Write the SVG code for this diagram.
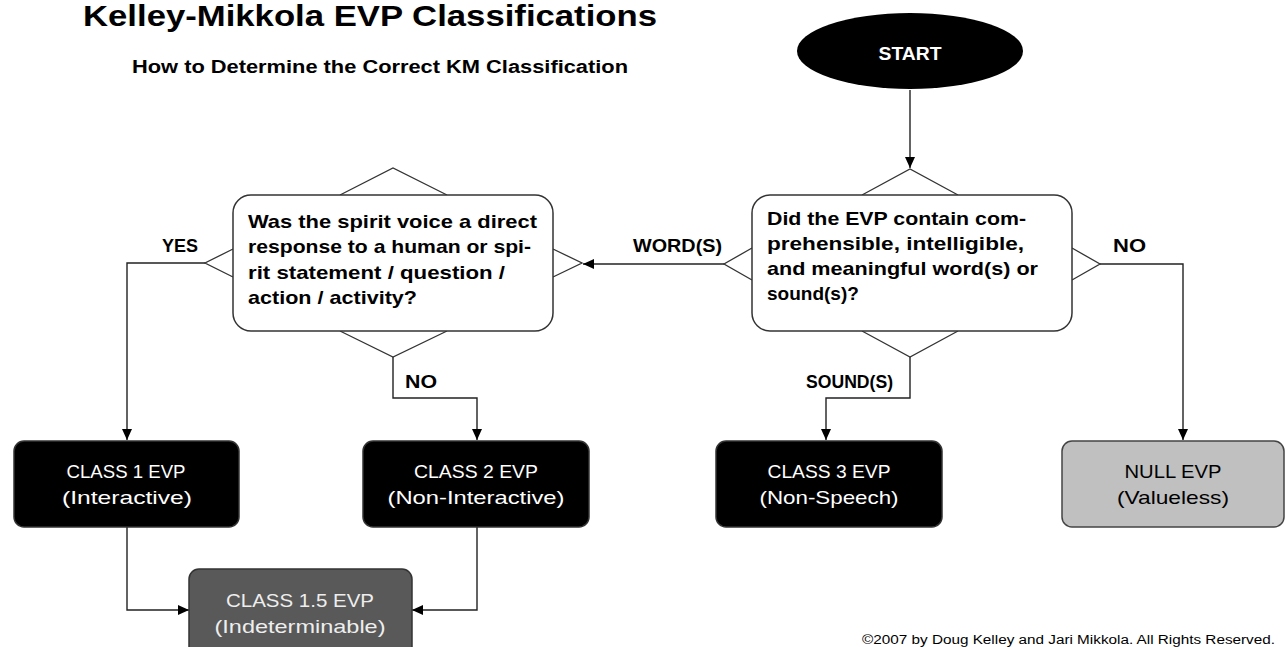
<svg xmlns="http://www.w3.org/2000/svg" width="1285" height="647" viewBox="0 0 1285 647">
<style>
text{font-family:"Liberation Sans",Arial,sans-serif;}
.t{font-weight:bold;fill:#000;}
.q{font-size:19px;font-weight:bold;fill:#000;}
.lbl{font-size:18px;font-weight:bold;fill:#000;}
.bx{font-size:19px;fill:#fff;text-anchor:middle;}
.dec{fill:#fff;stroke:#333;stroke-width:1.5;}
.tri{fill:#fff;stroke:#333;stroke-width:1.3;}
.dark{fill:#000;stroke:#333;stroke-width:1.5;}
.con{fill:none;stroke:#222;stroke-width:1.4;}
</style>
<defs>
<marker id="ah" markerWidth="12" markerHeight="10" refX="11" refY="5" orient="auto" markerUnits="userSpaceOnUse">
<path d="M0,0 L11,5 L0,10 Z" fill="#000"/>
</marker>
</defs>
<rect width="1285" height="647" fill="#fff"/>
<g id="title">
<text class="t" x="83" y="26" font-size="30" textLength="574" lengthAdjust="spacingAndGlyphs">Kelley-Mikkola EVP Classifications</text>
<text class="t" x="132" y="73" font-size="18" textLength="496" lengthAdjust="spacingAndGlyphs">How to Determine the Correct KM Classification</text>
</g>
<g id="connectors">
<path class="con" d="M910,90 V168" marker-end="url(#ah)"/>
<path class="con" d="M724,264 H583" marker-end="url(#ah)"/>
<path class="con" d="M205,263 H127 V440" marker-end="url(#ah)"/>
<path class="con" d="M393,357 V398 H477 V440" marker-end="url(#ah)"/>
<path class="con" d="M910,357 V398 H826 V440" marker-end="url(#ah)"/>
<path class="con" d="M1100,264 H1183 V440" marker-end="url(#ah)"/>
<path class="con" d="M127,527 V610 H189" marker-end="url(#ah)"/>
<path class="con" d="M477,527 V610 H412" marker-end="url(#ah)"/>
<text class="lbl" x="633" y="252" textLength="89" lengthAdjust="spacingAndGlyphs">WORD(S)</text>
<text class="lbl" x="162" y="252" textLength="36" lengthAdjust="spacingAndGlyphs">YES</text>
<text class="lbl" x="405" y="388" textLength="32" lengthAdjust="spacingAndGlyphs">NO</text>
<text class="lbl" x="806" y="388" textLength="87" lengthAdjust="spacingAndGlyphs">SOUND(S)</text>
<text class="lbl" x="1113" y="252" textLength="33" lengthAdjust="spacingAndGlyphs">NO</text>
</g>
<g id="start">
<ellipse cx="910" cy="51" rx="113" ry="38" fill="#000"/>
<text x="910" y="60" font-size="19" font-weight="bold" fill="#fff" text-anchor="middle" textLength="63" lengthAdjust="spacingAndGlyphs">START</text>
</g>
<g id="decision-words">
<path class="tri" d="M862,195 L910,169 L958,195 M752,248 L724,264 L752,280 M1072,248 L1100,264 L1072,280 M862,331 L910,357 L958,331"/>
<rect class="dec" x="752" y="195" width="320" height="136" rx="18"/>
<text class="q" x="767" y="225" textLength="259" lengthAdjust="spacingAndGlyphs">Did the EVP contain com-</text>
<text class="q" x="767" y="250" textLength="257" lengthAdjust="spacingAndGlyphs">prehensible, intelligible,</text>
<text class="q" x="767" y="275" textLength="271" lengthAdjust="spacingAndGlyphs">and meaningful word(s) or</text>
<text class="q" x="767" y="300">sound(s)?</text>
</g>
<g id="decision-response">
<path class="tri" d="M340,195 L393,168 L447,195 M233,249 L205,263 L233,277 M553,249 L582,263 L553,277 M340,331 L393,357 L447,331"/>
<rect class="dec" x="233" y="195" width="320" height="136" rx="18"/>
<text class="q" x="248" y="228" textLength="289" lengthAdjust="spacingAndGlyphs">Was the spirit voice a direct</text>
<text class="q" x="248" y="253" textLength="283" lengthAdjust="spacingAndGlyphs">response to a human or spi-</text>
<text class="q" x="248" y="279" textLength="257" lengthAdjust="spacingAndGlyphs">rit statement / question /</text>
<text class="q" x="248" y="304" textLength="169" lengthAdjust="spacingAndGlyphs">action / activity?</text>
</g>
<g id="class1">
<rect class="dark" x="14" y="441" width="225" height="86" rx="10"/>
<text class="bx" x="126" y="478" textLength="119" lengthAdjust="spacingAndGlyphs">CLASS 1 EVP</text>
<text class="bx" x="127" y="504" textLength="130" lengthAdjust="spacingAndGlyphs">(Interactive)</text>
</g>
<g id="class2">
<rect class="dark" x="363" y="441" width="226" height="86" rx="10"/>
<text class="bx" x="476" y="478" textLength="124" lengthAdjust="spacingAndGlyphs">CLASS 2 EVP</text>
<text class="bx" x="476" y="504" textLength="177" lengthAdjust="spacingAndGlyphs">(Non-Interactive)</text>
</g>
<g id="class3">
<rect class="dark" x="716" y="441" width="226" height="86" rx="10"/>
<text class="bx" x="829" y="478" textLength="123" lengthAdjust="spacingAndGlyphs">CLASS 3 EVP</text>
<text class="bx" x="829" y="504" textLength="139" lengthAdjust="spacingAndGlyphs">(Non-Speech)</text>
</g>
<g id="null">
<rect x="1062" y="441" width="222" height="86" rx="10" fill="#c0c0c0" stroke="#444" stroke-width="1.5"/>
<text class="bx" x="1173" y="478" style="fill:#000" textLength="97" lengthAdjust="spacingAndGlyphs">NULL EVP</text>
<text class="bx" x="1173" y="504" style="fill:#000" textLength="112" lengthAdjust="spacingAndGlyphs">(Valueless)</text>
</g>
<g id="class15">
<rect x="189" y="569" width="223" height="100" rx="10" fill="#595959" stroke="#333" stroke-width="1.5"/>
<text class="bx" x="300" y="607" style="fill:#eee" textLength="148" lengthAdjust="spacingAndGlyphs">CLASS 1.5 EVP</text>
<text class="bx" x="300" y="633" style="fill:#eee" textLength="171" lengthAdjust="spacingAndGlyphs">(Indeterminable)</text>
</g>
<g id="footer">
<text x="862" y="644" font-size="12" fill="#000" textLength="413" lengthAdjust="spacingAndGlyphs">©2007 by Doug Kelley and Jari Mikkola. All Rights Reserved.</text>
</g>
</svg>
